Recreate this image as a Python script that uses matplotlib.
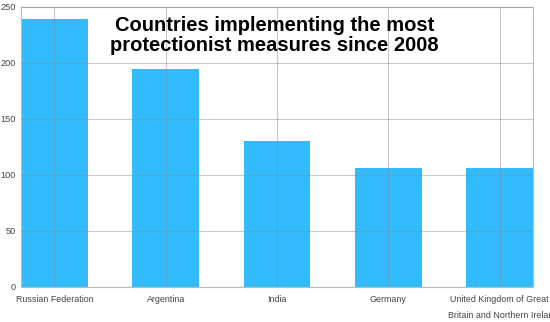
import matplotlib
matplotlib.use("Agg")
import matplotlib.pyplot as plt

categories = ["Russian Federation", "Argentina", "India", "Germany",
              "United Kingdom of Great\nBritain and Northern Irelar"]
values = [239, 195, 130, 106, 106]
yticks = [0, 50, 100, 150, 200, 250]
title = "Countries implementing the most\nprotectionist measures since 2008"

plt.rcParams['font.family'] = ['Liberation Sans', 'DejaVu Sans']

fig = plt.figure(figsize=(5.5, 3.22), dpi=100)
ax = fig.add_axes([21/550, 1-287/322, (533-21)/550, (287-7)/322])

x = list(range(len(categories)))
ax.bar(x, values, width=0.6, color='#33bbff', zorder=1)

ax.set_xlim(-0.3, 4.3)
ax.set_ylim(0, 250)
ax.set_yticks(yticks)
ax.set_xticks(x)
ax.set_xticklabels(categories, fontsize=6.4, color='#444444', linespacing=1.9)
ax.set_yticklabels([str(v) for v in yticks], fontsize=6.6, color='#444444')
ax.tick_params(length=0, pad=4)
ax.tick_params(axis='x', pad=6)
ax.grid(True, color='#888888', alpha=0.45, linewidth=0.8, zorder=2)
ax.set_axisbelow(False)
for s in ax.spines.values():
    s.set_color('#bbbbbb')
    s.set_linewidth(0.8)

ax.text(0.495, 0.968, title, transform=ax.transAxes, ha='center', va='top',
        fontsize=14.5, fontweight='bold', color='black', linespacing=1.08)

fig.savefig("out.png", dpi=100)
